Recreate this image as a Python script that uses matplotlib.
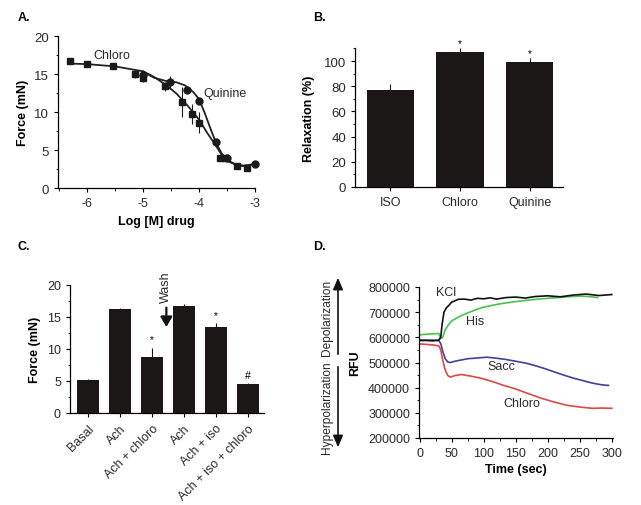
import matplotlib
matplotlib.use("Agg")
import matplotlib.pyplot as plt
from matplotlib.ticker import MultipleLocator
import numpy as np

plt.rcParams['font.family'] = ['Liberation Sans', 'DejaVu Sans']

# ---------------- Panel A data ----------------
chloro_x = [-6.30, -6.0, -5.53, -5.14, -5.0, -4.6, -4.31, -4.13, -4.0, -3.63, -3.54, -3.32, -3.14]
chloro_y = [16.7, 16.3, 16.0, 15.0, 14.5, 13.4, 11.3, 9.7, 8.6, 4.0, 4.0, 2.9, 2.6]
chloro_err = [0.1, 0.2, 0.2, 0.5, 0.5, 0.6, 2.0, 1.3, 1.4, 0.3, 0.2, 0.2, 0.3]
quin_x = [-5.0, -4.52, -4.22, -4.0, -3.70, -3.50, -3.0]
quin_y = [14.9, 14.0, 12.9, 11.5, 6.0, 4.0, 3.2]
quin_err = [0.6, 0.8, 0.4, 0.4, 0.3, 0.2, 0.2]
chloro_fit_x = [-6.22, -6.0, -5.5, -5.0, -4.8, -4.6, -4.4, -4.2, -4.0, -3.85, -3.7, -3.6, -3.45, -3.3, -3.12]
chloro_fit_y = [16.35, 16.3, 16.0, 15.35, 14.6, 13.6, 12.4, 10.8, 9.0, 7.2, 5.6, 4.4, 3.4, 2.95, 2.8]
quin_fit_x = [-5.0, -4.8, -4.6, -4.4, -4.25, -4.1, -4.0, -3.9, -3.8, -3.7, -3.6, -3.5, -3.35, -3.2, -3.0]
quin_fit_y = [15.3, 14.5, 14.1, 13.9, 13.5, 12.6, 11.7, 9.9, 7.9, 6.0, 4.6, 3.7, 3.1, 2.95, 3.15]

# ---------------- Panel B data ----------------
b_labels = ['ISO', 'Chloro', 'Quinine']
b_values = [77, 107, 99.5]
b_err = [5, 3, 2.5]
b_marks = ['', '*', '*']

# ---------------- Panel C data ----------------
c_labels = ['Basal', 'Ach', 'Ach + chloro', 'Ach', 'Ach + iso', 'Ach + iso + chloro']
c_values = [5.2, 16.3, 8.7, 16.7, 13.4, 4.5]
c_err = [0.1, 0.15, 1.5, 0.3, 0.6, 0.2]
c_marks = ['', '', '*', '', '*', '#']

# ---------------- Panel D data ----------------
kcl_t = [0, 10, 20, 30, 33, 35, 38, 42, 46, 50, 55, 60, 70, 80, 90, 100, 110, 120, 135, 150, 165, 180, 200, 220, 240, 260, 280, 300]
kcl_y = [587000, 588000, 586000, 589000, 600000, 650000, 700000, 718000, 728000, 740000, 745000, 751000, 752000, 748000, 755000, 753000, 757000, 752000, 758000, 760000, 756000, 762000, 765000, 761000, 768000, 772000, 766000, 770000]
his_t = [0, 10, 20, 30, 33, 36, 40, 45, 50, 60, 70, 80, 90, 100, 115, 130, 150, 170, 190, 210, 230, 250, 265, 278]
his_y = [610000, 612000, 614000, 615000, 595000, 600000, 630000, 650000, 665000, 680000, 692000, 702000, 712000, 720000, 728000, 735000, 742000, 748000, 753000, 757000, 761000, 764000, 762000, 758000]
sacc_t = [0, 10, 20, 30, 33, 36, 40, 44, 48, 55, 65, 75, 90, 105, 120, 135, 150, 165, 180, 195, 210, 225, 240, 255, 270, 285, 295]
sacc_y = [590000, 588000, 589000, 587000, 575000, 545000, 515000, 502000, 500000, 505000, 510000, 515000, 518000, 521000, 517000, 512000, 505000, 498000, 488000, 476000, 463000, 450000, 438000, 428000, 418000, 411000, 409000]
chl_t = [0, 10, 20, 30, 33, 36, 40, 44, 48, 55, 65, 80, 100, 115, 130, 150, 170, 190, 210, 230, 250, 270, 285, 300]
chl_y = [574000, 572000, 570000, 566000, 550000, 510000, 470000, 448000, 442000, 448000, 452000, 446000, 435000, 423000, 410000, 395000, 376000, 358000, 343000, 330000, 323000, 318000, 319000, 318000]

W, H = 641, 506
fig = plt.figure(figsize=(W / 100, H / 100), dpi=100)

def rect(l, t, r, b):
    return [l / W, 1 - b / H, (r - l) / W, (b - t) / H]

TICK = 9
LAB = 9
TXT = 9
TXTC = '#2a2a2a'

def style(ax):
    ax.spines['top'].set_visible(False)
    ax.spines['right'].set_visible(False)
    ax.tick_params(direction='out', labelsize=TICK, length=3, width=0.8, labelcolor=TXTC)
    ax.tick_params(which='minor', direction='out', length=1.8, width=0.6)
    for s in ('left', 'bottom'):
        ax.spines[s].set_linewidth(0.9)

# ---------------- Panel A ----------------
axA = fig.add_axes(rect(58, 37, 255, 189))
style(axA)
axA.plot(chloro_fit_x, chloro_fit_y, color='#222222', lw=1.3)
axA.plot(quin_fit_x, quin_fit_y, color='#222222', lw=1.3)
axA.errorbar(chloro_x, chloro_y, yerr=chloro_err, fmt='s', color='#1a1a1a', ms=5, elinewidth=0.8, capsize=0, clip_on=False)
axA.errorbar(quin_x, quin_y, yerr=quin_err, fmt='o', color='#1a1a1a', ms=5, elinewidth=0.8, capsize=0, clip_on=False)
axA.set_xlim(-6.52, -3.0)
axA.set_ylim(0, 20)
axA.set_xticks([-6, -5, -4, -3])
axA.set_xticklabels(['-6', '-5', '-4', '-3'])
axA.set_yticks([0, 5, 10, 15, 20])
axA.tick_params(axis='y', labelsize=9.5)
axA.xaxis.set_minor_locator(MultipleLocator(0.5))
axA.yaxis.set_minor_locator(MultipleLocator(2.5))
axA.set_xlabel('Log [M] drug', fontsize=LAB, fontweight='bold', labelpad=4)
axA.set_ylabel('Force (mN)', fontsize=LAB, fontweight='bold', labelpad=4)
axA.text(-5.55, 17.5, 'Chloro', fontsize=TXT, ha='center', va='center', color=TXTC)
axA.text(-3.93, 12.5, 'Quinine', fontsize=TXT, ha='left', va='center', color=TXTC)

# ---------------- Panel B ----------------
axB = fig.add_axes(rect(355, 49.4, 563, 188))
style(axB)
xb = np.arange(len(b_labels))
axB.bar(xb, b_values, width=0.68, color='#1c1717', yerr=b_err, error_kw=dict(elinewidth=0.8, capsize=0, ecolor='#1c1717'))
for i, m in enumerate(b_marks):
    if m:
        axB.text(xb[i], b_values[i] + b_err[i] + 4, m, ha='center', va='center', fontsize=7)
axB.set_xlim(-0.51, 2.48)
axB.set_ylim(0, 110)
axB.set_xticks(xb)
axB.set_xticklabels(b_labels)
axB.set_yticks([0, 20, 40, 60, 80, 100])
axB.tick_params(axis='y', labelsize=9.5)
axB.yaxis.set_minor_locator(MultipleLocator(10))
axB.set_ylabel('Relaxation (%)', fontsize=LAB, fontweight='bold', labelpad=6)

# ---------------- Panel C ----------------
axC = fig.add_axes(rect(70, 286, 264, 414))
style(axC)
xc = np.arange(len(c_labels))
axC.bar(xc, c_values, width=0.69, color='#1c1717', yerr=c_err, error_kw=dict(elinewidth=0.8, capsize=0, ecolor='#1c1717'))
for i, m in enumerate(c_marks):
    if m:
        axC.text(xc[i], c_values[i] + c_err[i] + 1.3, m, ha='center', va='center', fontsize=7 if m == '*' else 7.5)
axC.set_xlim(-0.56, 5.5)
axC.set_ylim(0, 20)
axC.set_xticks(xc)
axC.set_xticklabels(c_labels, rotation=45, ha='right', rotation_mode='anchor')
axC.set_yticks([0, 5, 10, 15, 20])
axC.yaxis.set_minor_locator(MultipleLocator(2.5))
axC.set_ylabel('Force (mN)', fontsize=LAB, fontweight='bold', labelpad=4)
axC.annotate('', xy=(2.45, 13.0), xytext=(2.45, 16.9),
             arrowprops=dict(arrowstyle='-|>,head_width=0.35,head_length=0.6', color='#111111', lw=1.6),
             annotation_clip=False)
axC.text(2.45, 17.3, 'Wash', rotation=90, ha='center', va='bottom', fontsize=TXT, color=TXTC, clip_on=False)

# ---------------- Panel D ----------------
axD = fig.add_axes(rect(419, 288, 613, 439))
style(axD)
axD.plot(his_t, his_y, color='#4cc04c', lw=1.2)
axD.plot(sacc_t, sacc_y, color='#4040a0', lw=1.2)
axD.plot(chl_t, chl_y, color='#e04848', lw=1.2)
axD.plot(kcl_t, kcl_y, color='#111111', lw=1.2)
axD.set_xlim(-1, 302)
axD.set_ylim(200000, 800000)
axD.set_xticks([0, 50, 100, 150, 200, 250, 300])
axD.set_yticks([200000, 300000, 400000, 500000, 600000, 700000, 800000])
axD.set_yticklabels(['200000', '300000', '400000', '500000', '600000', '700000', '800000'])
axD.xaxis.set_minor_locator(MultipleLocator(25))
axD.yaxis.set_minor_locator(MultipleLocator(50000))
axD.set_xlabel('Time (sec)', fontsize=LAB, fontweight='bold', labelpad=3)
axD.set_ylabel('RFU', fontsize=LAB, fontweight='bold', labelpad=5)
axD.text(42, 780000, 'KCl', fontsize=TXT, ha='center', va='center', color=TXTC)
axD.text(86, 665000, 'His', fontsize=TXT, ha='center', va='center', color=TXTC)
axD.text(127, 487000, 'Sacc', fontsize=TXT, ha='center', va='center', color=TXTC)
axD.text(160, 340000, 'Chloro', fontsize=TXT, ha='center', va='center', color=TXTC)

# Depolarization / Hyperpolarization annotation (figure coords)
def fx(x):
    return x / W
def fy(y):
    return 1 - y / H
fig.text(fx(327), fy(318), 'Depolarization', rotation=90, ha='center', va='center', fontsize=8.6, color=TXTC)
fig.text(fx(327), fy(408), 'Hyperpolarization', rotation=90, ha='center', va='center', fontsize=8.6, color=TXTC)
fig.add_artist(matplotlib.patches.FancyArrowPatch((fx(338), fy(358)), (fx(338), fy(276)), transform=fig.transFigure,
               arrowstyle='-|>,head_width=3,head_length=7', color='#111111', lw=1.2))
fig.add_artist(matplotlib.patches.FancyArrowPatch((fx(338), fy(365)), (fx(338), fy(451)), transform=fig.transFigure,
               arrowstyle='-|>,head_width=3,head_length=7', color='#111111', lw=1.2))

# Panel letters
fig.text(fx(18), fy(18), 'A.', fontsize=9, fontweight='bold', ha='left', va='center')
fig.text(fx(313), fy(18), 'B.', fontsize=9, fontweight='bold', ha='left', va='center')
fig.text(fx(18), fy(247), 'C.', fontsize=9, fontweight='bold', ha='left', va='center')
fig.text(fx(313), fy(247), 'D.', fontsize=9, fontweight='bold', ha='left', va='center')

fig.savefig('out.png', dpi=100)
